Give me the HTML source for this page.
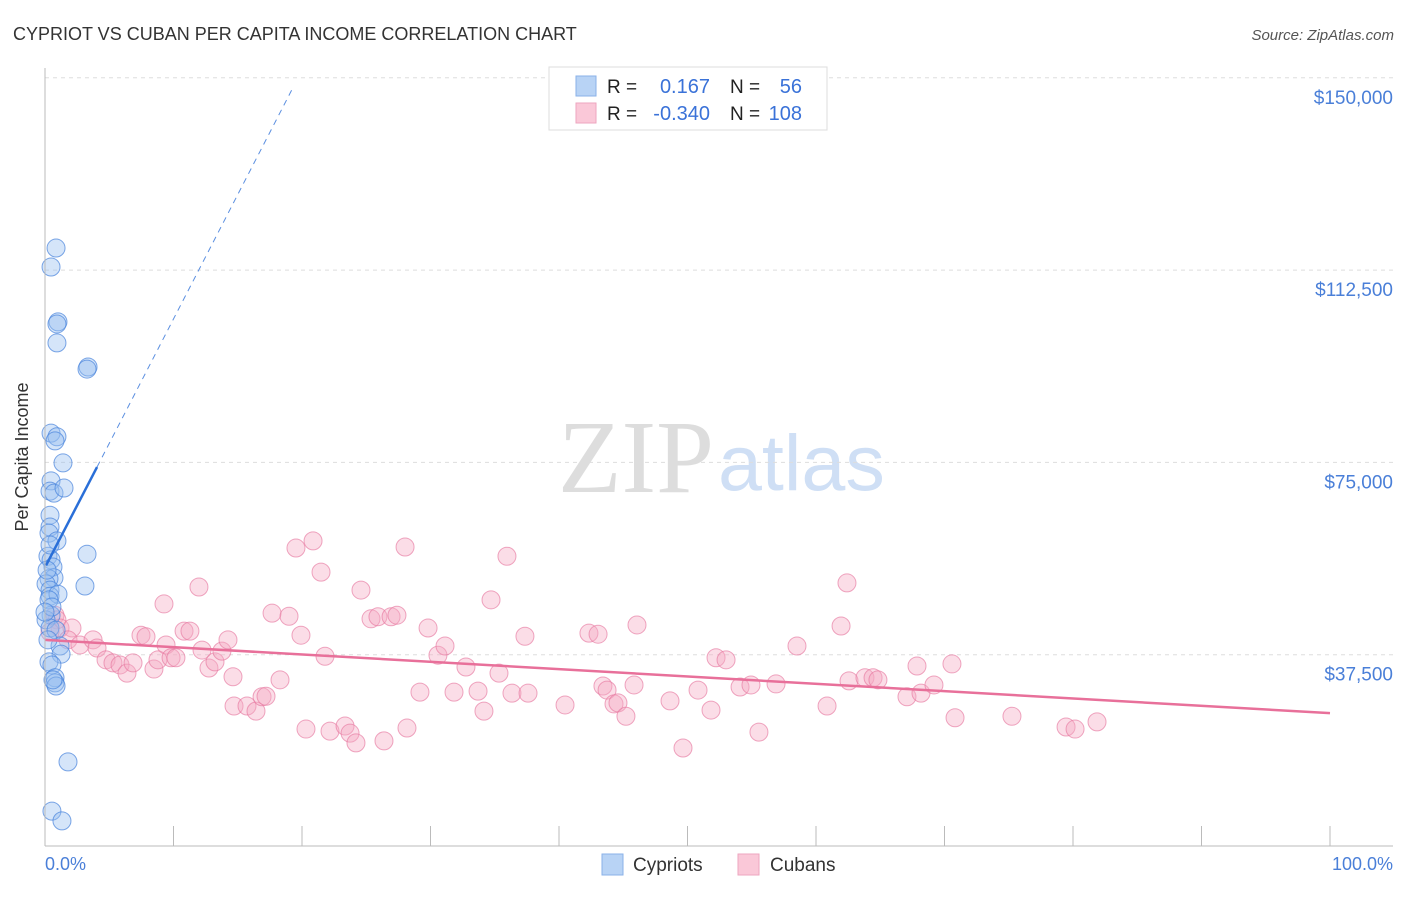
<!DOCTYPE html>
<html><head><meta charset="utf-8"><style>
body{margin:0;background:#fff;font-family:"Liberation Sans",sans-serif}
svg text{font-family:"Liberation Sans",sans-serif}
</style></head><body>
<svg id="c" width="1406" height="892" xmlns="http://www.w3.org/2000/svg">
<text x="13" y="40" font-size="18" fill="#333">CYPRIOT VS CUBAN PER CAPITA INCOME CORRELATION CHART</text>
<text x="1394" y="40" font-size="15" fill="#555" text-anchor="end" font-style="italic">Source: ZipAtlas.com</text>
<text x="714" y="492" font-size="104" fill="#ddd" text-anchor="end" style="font-family:'Liberation Serif',serif">ZIP</text>
<text x="718" y="490" font-size="79" fill="#cfdff5">atlas</text>
<g id="grid"></g>
<g id="pts"></g>
<g id="trend"></g>
<line x1="45" y1="68" x2="45" y2="846" stroke="#bbb"/>
<line x1="45" y1="846" x2="1393" y2="846" stroke="#bbb"/>
<text x="28" y="457" font-size="18" fill="#333" text-anchor="middle" transform="rotate(-90 28 457)">Per Capita Income</text>
<text x="45" y="870" font-size="18" fill="#4a7fd8">0.0%</text>
<text x="1393" y="870" font-size="18" fill="#4a7fd8" text-anchor="end">100.0%</text>
<g>
<rect x="549" y="67" width="278" height="63" fill="#fff" stroke="#ddd"/>
<rect x="576" y="76" width="20" height="20" fill="#b8d3f5" stroke="#8ab2e8"/>
<rect x="576" y="103" width="20" height="20" fill="#fac8d8" stroke="#eea6bf"/>
<text x="607" y="93" font-size="19" fill="#222">R =</text>
<text x="710" y="93" font-size="20" fill="#3a72d8" text-anchor="end">0.167</text>
<text x="730" y="93" font-size="19" fill="#222">N =</text>
<text x="802" y="93" font-size="20" fill="#3a72d8" text-anchor="end">56</text>
<text x="607" y="120" font-size="19" fill="#222">R =</text>
<text x="710" y="120" font-size="20" fill="#3a72d8" text-anchor="end">-0.340</text>
<text x="730" y="120" font-size="19" fill="#222">N =</text>
<text x="802" y="120" font-size="20" fill="#3a72d8" text-anchor="end">108</text>
</g>
<g>
<rect x="602" y="854" width="21" height="21" fill="#b8d3f5" stroke="#8ab2e8"/>
<text x="633" y="871" font-size="19" fill="#333">Cypriots</text>
<rect x="738" y="854" width="21" height="21" fill="#fac8d8" stroke="#eea6bf"/>
<text x="770" y="871" font-size="19" fill="#333">Cubans</text>
</g>
</svg>
<script>
const yTicks=[37500,75000,112500,150000];
const yTickLabels=["$37,500","$75,000","$112,500","$150,000"];
const xTicks=[0,10,20,30,40,50,60,70,80,90,100];
const cypX=[0.86,0.47,1.01,0.93,0.93,3.35,3.27,0.47,0.93,0.78,1.40,0.47,0.39,0.70,1.48,0.39,0.39,0.31,0.93,3.27,0.23,0.47,0.62,0.70,0.31,0.08,3.11,0.39,0.39,1.01,0.31,0.47,0.08,0.39,0.86,1.17,1.25,0.31,0.54,0.78,0.78,0.86,1.79,0.54,1.32,0.39,0.16,0.54,0.23,0.62,0];
const cypY=[116.8,113.1,102.4,102.0,98.3,93.6,93.2,80.7,80.0,79.2,74.9,71.4,69.4,69.0,70.0,64.7,62.4,61.2,59.7,57.1,56.7,56.0,54.6,52.5,52.3,51.3,50.9,50.1,48.9,49.3,48.2,45.2,44.3,42.7,42.3,39.2,37.6,36.1,35.5,33.0,32.0,31.4,16.6,7.0,5.1,58.9,54.0,46.8,40.4,32.6,45.8];
const cubX=[0.78,0.93,1.17,0.39,2.10,1.79,2.72,3.74,4.05,4.75,5.29,5.84,6.38,6.85,7.47,7.86,8.48,8.79,9.42,9.81,10.19,9.26,10.82,11.28,11.98,12.22,12.76,13.23,13.77,14.24,14.63,14.71,15.72,16.42,16.89,17.20,17.67,18.29,18.99,19.53,19.92,20.31,20.86,21.48,21.79,22.18,23.35,23.74,24.20,24.59,25.37,25.91,26.38,26.93,27.39,28.02,28.17,29.81,29.18,30.58,31.13,31.83,32.76,33.70,34.16,34.71,35.33,35.95,36.34,37.59,37.35,40.47,42.33,43.04,43.42,43.74,44.28,44.59,45.21,45.84,46.07,48.64,49.65,50.82,51.83,52.22,53.00,54.09,54.94,55.56,56.89,58.52,60.86,61.95,62.41,62.57,63.81,64.44,64.82,67.08,67.86,68.17,69.18,70.58,70.82,75.25,79.46,80.16,81.87];
const cubY=[45.2,44.3,42.7,41.9,42.7,40.4,39.4,40.4,38.8,36.5,35.9,35.5,33.9,35.9,41.3,41.0,34.7,36.5,39.4,36.9,36.9,47.4,42.1,42.1,50.7,38.4,34.9,36.1,38.2,40.4,33.2,27.5,27.5,26.5,29.3,29.4,45.6,32.6,45.0,58.3,41.3,23.0,59.7,53.6,37.2,22.6,23.6,22.2,20.3,50.1,44.5,44.9,20.7,44.9,45.2,58.5,23.2,42.7,30.2,37.4,39.2,30.2,35.1,30.4,26.5,48.2,33.9,56.7,30.0,30.0,41.1,27.7,41.7,41.5,31.4,30.6,27.9,28.1,25.5,31.6,43.3,28.5,19.3,30.6,26.7,36.9,36.5,31.2,31.6,22.4,31.8,39.2,27.5,43.1,51.5,32.4,33.0,33.0,32.6,29.3,35.3,30.0,31.6,35.7,25.2,25.5,23.4,23.0,24.4];
const cypTrend=[[0.08,54.9],[4.05,74.1],[19.3,148.1]];
const cubTrend=[[0,40.4],[100,26.1]];
const NS="http://www.w3.org/2000/svg";
const X=p=>45+p*12.85;
const Y=v=>847-v*1000*(192.3/37500);
function mk(t,a,parent){const e=document.createElementNS(NS,t);for(const k in a)e.setAttribute(k,a[k]);parent.appendChild(e);return e;}
const grid=document.getElementById('grid');
yTicks.forEach((v,i)=>{
  const l=mk('line',{x1:45,x2:1393,y1:Y(v/1000),y2:Y(v/1000),stroke:'#ddd','stroke-dasharray':'4,4'},grid);
  
  
  const t=mk('text',{x:1393,y:Y(v/1000)+26,'font-size':19,fill:'#4a7fd8','text-anchor':'end'},grid);
  t.textContent=yTickLabels[i];
  
  
});
xTicks.forEach(p=>{
  const l=mk('line',{x1:X(p),x2:X(p),y1:826,y2:846,stroke:'#bbb'},grid);
  
  
});
const pts=document.getElementById('pts');
cubX.forEach((x,i)=>{
  const c=mk('circle',{cx:X(x),cy:Y(cubY[i]),r:9,fill:'rgba(245,170,195,0.4)',stroke:'rgba(230,120,160,0.65)','stroke-width':1},pts);
  
  
});
cypX.forEach((x,i)=>{
  const c=mk('circle',{cx:X(x),cy:Y(cypY[i]),r:9,fill:'rgba(150,190,240,0.4)',stroke:'rgba(70,130,220,0.7)','stroke-width':1},pts);
  
  
});
const tr=document.getElementById('trend');
let l=mk('line',{x1:X(cypTrend[0][0]),y1:Y(cypTrend[0][1]),x2:X(cypTrend[1][0]),y2:Y(cypTrend[1][1]),stroke:'#2a6fd8','stroke-width':2.5},tr);


l=mk('line',{x1:X(cypTrend[1][0]),y1:Y(cypTrend[1][1]),x2:X(cypTrend[2][0]),y2:Y(cypTrend[2][1]),stroke:'#5b8fe0','stroke-width':1,'stroke-dasharray':'6,5'},tr);


l=mk('line',{x1:X(cubTrend[0][0]),y1:Y(cubTrend[0][1]),x2:X(cubTrend[1][0]),y2:Y(cubTrend[1][1]),stroke:'#e8709a','stroke-width':2.5},tr);


</script>
</body></html>
